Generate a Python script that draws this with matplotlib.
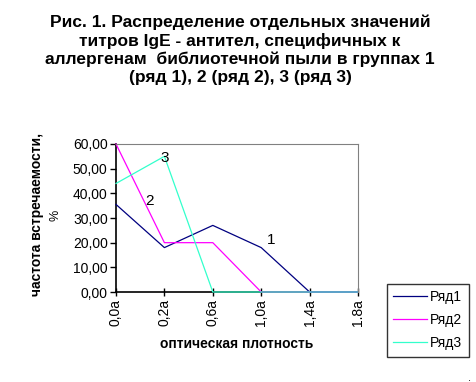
import numpy as np
import matplotlib.pyplot as plt

plt.rcParams['font.family'] = ['Liberation Sans', 'DejaVu Sans']

categories = ['0,0a', '0,2a', '0,6a', '1,0a', '1,4a', '1.8a']
row1 = [35.5, 18.0, 27.0, 18.0, 0.0, 0.0]
row2 = [60.0, 20.0, 20.0, 0.0, 0.0, 0.0]
row3 = [44.0, 55.0, 0.0, 0.0, 0.0, 0.0]
y_ticks = [0, 10, 20, 30, 40, 50, 60]

fig = plt.figure(figsize=(4.77, 3.82), dpi=100)
ax = fig.add_axes([116 / 477, 1 - 292 / 382, 242 / 477, 148 / 382])

x = np.arange(len(categories))
ax.plot(x, row1, color='#000080', lw=0.9, label='Ряд1', clip_on=False)
ax.plot(x, row2, color='#ff00ff', lw=0.9, label='Ряд2', clip_on=False)
ax.plot(x, row3, color='#33ffcc', lw=0.9, label='Ряд3', clip_on=False)

ax.text(1.0, 54.5, '3', fontsize=11, ha='center', va='center')
ax.text(0.69, 37, '2', fontsize=11, ha='center', va='center')
ax.text(3.2, 21, '1', fontsize=11, ha='center', va='center')

ax.set_xlim(0, len(categories) - 1)
ax.set_ylim(0, 60)
ax.set_xticks(x)
ax.set_xticklabels(categories, rotation=90, fontsize=10)
ax.set_yticks(y_ticks)
ax.set_yticklabels([f'{v:.2f}'.replace('.', ',') for v in y_ticks], fontsize=10)
ax.tick_params(axis='x', direction='inout', length=6, width=1, pad=2)
ax.tick_params(axis='y', direction='out', length=4, width=1, pad=2)

for side in ['top', 'right']:
    ax.spines[side].set_color('#808080')
for side in ['left', 'bottom']:
    ax.spines[side].set_color('black')
    ax.spines[side].set_linewidth(1.2)
    ax.spines[side].set_zorder(1)

ax.set_xlabel('оптическая плотность', fontsize=10, fontweight='bold', labelpad=8)
fig.text(37 / 477, 1 - 215 / 382, 'частота встречаемости,', rotation=90,
         fontsize=10, fontweight='bold', ha='center', va='center')
fig.text(56 / 477, 1 - 215 / 382, '%', rotation=90,
         fontsize=9, ha='center', va='center')

fig.text(240 / 477, 1 - 50 / 382,
         'Рис. 1. Распределение отдельных значений\n'
         'титров IgE - антител, специфичных к\n'
         'аллергенам  библиотечной пыли в группах 1\n'
         '(ряд 1), 2 (ряд 2), 3 (ряд 3)',
         fontsize=12.5, fontweight='bold', ha='center', va='center',
         linespacing=1.22)

leg = fig.legend(loc='upper left', bbox_to_anchor=(387 / 477, 1 - 284 / 382),
                 fontsize=10, frameon=True, fancybox=False, handlelength=2.4,
                 borderpad=0.45, labelspacing=0.65, handletextpad=0.25,
                 borderaxespad=0)
leg.get_frame().set_edgecolor('black')
leg.get_frame().set_linewidth(1)

fig.text(470 / 477, 1 - 378 / 382, '.', fontsize=8, ha='center', va='center')

plt.savefig('out.png', dpi=100)
